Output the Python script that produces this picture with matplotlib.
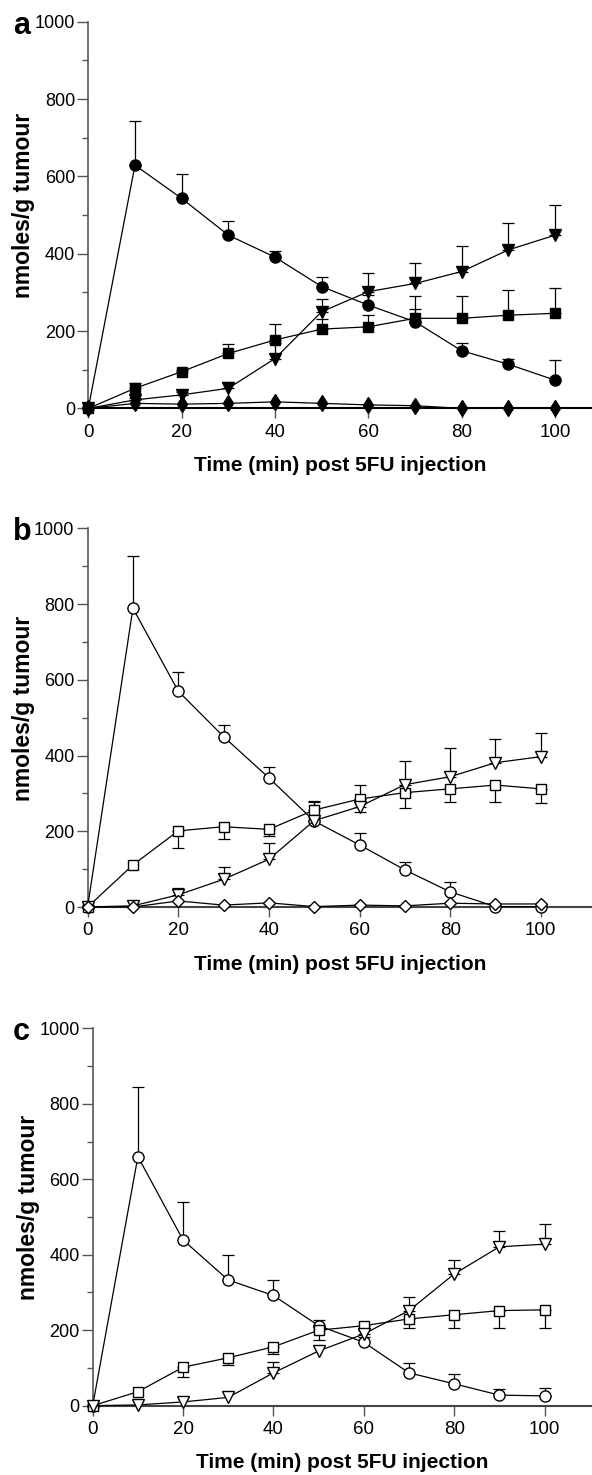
import matplotlib
matplotlib.use("Agg")
import numpy as np
import matplotlib.pyplot as plt
from matplotlib.ticker import MultipleLocator

plt.rcParams['font.family'] = ['Liberation Sans Narrow', 'Liberation Sans', 'DejaVu Sans']

# Time points (min) post 5FU injection
time = [0, 10, 20, 30, 40, 50, 60, 70, 80, 90, 100]

# Panel a (filled symbols); errors: + = bar up, - = bar down
a_circle = [0, 629, 543, 448, 391, 315, 267, 224, 149, 114, 73]
a_circle_err = [0, 115, 63, 36, 17, 24, 25, 34, 21, 15, 53]
a_square = [0, 52, 95, 142, 177, 205, 211, 233, 233, 241, 246]
a_square_err = [0, 14, 5, 24, 40, 25, 30, 58, 58, 65, 65]
a_triangle = [0, 22, 35, 52, 129, 250, 302, 323, 354, 410, 448]
a_triangle_err = [0, 5, 8, 17, 40, 33, 49, 54, 67, 70, 78]
a_diamond = [0, 13, 11, 13, 17, 13, 9, 7, 0, 0, 0]
a_diamond_err = [0, 0, 0, 0, 0, 0, 0, 0, 0, 0, 0]

# Panel b (open symbols)
b_circle = [0, 789, 570, 450, 341, 227, 164, 98, 40, 1, 1]
b_circle_err = [0, 139, 50, 31, 29, 10, 32, 22, 25, 0, 0]
b_square = [0, 111, 201, 212, 205, 256, 285, 302, 312, 322, 312]
b_square_err = [0, 0, -46, -32, -18, 24, 37, -41, -36, -44, -37]
b_triangle = [0, 3, 32, 73, 126, 228, 265, 323, 344, 381, 397]
b_triangle_err = [0, 0, 17, 32, 44, 50, -15, 63, 75, 62, 62]
b_diamond = [0, 0, 16, 5, 11, 1, 5, 3, 10, 8, 8]
b_diamond_err = [0, 0, 0, 0, 0, 0, 0, 0, 0, 0, 0]

# Panel c (open symbols)
c_circle = [0, 660, 439, 333, 292, 212, 168, 87, 58, 28, 26]
c_circle_err = [0, 184, 102, 66, 40, 14, 15, 27, 25, 15, 22]
c_square = [0, 37, 102, 127, 156, 200, 212, 230, 241, 252, 254]
c_square_err = [0, 0, -26, -19, -18, -27, -10, -25, -36, -46, -48]
c_triangle = [0, 2, 10, 22, 87, 145, 190, 252, 349, 421, 428]
c_triangle_err = [0, 0, 0, 0, 30, 0, 10, 37, 37, 42, 53]

W, H = 592, 1475
fig = plt.figure(figsize=(W / 100, H / 100), dpi=100)


def make_axes(left_px, y0_px, y1000_px, xmax):
    ax = fig.add_axes([left_px / W, 1 - y0_px / H, (W - left_px) / W, (y0_px - y1000_px) / H])
    ax.set_xlim(0, xmax)
    ax.set_ylim(0, 1000)
    return ax


def draw_series(ax, vals, errs, marker, ms, face):
    errs = np.array(errs, dtype=float)
    vals = np.array(vals, dtype=float)
    t = np.array(time, dtype=float)
    keep = errs != 0
    lo = np.where(errs < 0, -errs, 0)[keep]
    hi = np.where(errs > 0, errs, 0)[keep]
    if keep.any():
        ax.errorbar(t[keep], vals[keep], yerr=[lo, hi], fmt='none', ecolor='black',
                    elinewidth=0.9, capsize=4, capthick=0.9, zorder=2)
    ax.plot(t, vals, '-', color='black', lw=0.9, marker=marker, ms=ms,
            mfc=face, mec='black', mew=1.0, clip_on=False, zorder=3)


def style(ax, letter, spine_col):
    for s in ['top', 'right']:
        ax.spines[s].set_visible(False)
    ax.spines['left'].set_color('#555555')
    ax.spines['left'].set_linewidth(1.2)
    ax.spines['bottom'].set_color(spine_col)
    ax.spines['bottom'].set_linewidth(1.5)
    ax.set_xticks([0, 20, 40, 60, 80, 100])
    ax.yaxis.set_major_locator(MultipleLocator(200))
    ax.yaxis.set_minor_locator(MultipleLocator(100))
    ax.tick_params(axis='y', which='major', length=8, width=1, pad=1.5,
                   color='#555555', labelsize=13)
    ax.tick_params(axis='y', which='minor', length=4, width=1, color='#555555')
    ax.tick_params(axis='x', which='major', length=7, width=1, pad=4,
                   color='#555555', labelsize=13.5)
    ax.set_xlabel('Time (min) post 5FU injection', family='Liberation Sans',
                  fontweight='bold', fontsize=15, labelpad=11)
    ax.set_ylabel('nmoles/g tumour', family='Liberation Sans',
                  fontweight='bold', fontsize=16.5)
    ax.yaxis.set_label_coords(-0.105, 0.525)
    left_px = ax.get_position().x0 * W
    ax.annotate(letter, xy=(0, 1000), xycoords=('axes fraction', 'data'),
                xytext=(13 - left_px, -12), textcoords='offset pixels',
                ha='left', va='baseline', family='Liberation Sans',
                fontweight='bold', fontsize=22)


# Panel a
ax1 = make_axes(88.3, 408.4, 21.7, 107.9)
draw_series(ax1, a_circle, a_circle_err, 'o', 8, 'black')
draw_series(ax1, a_square, a_square_err, 's', 7.5, 'black')
draw_series(ax1, a_triangle, a_triangle_err, 'v', 8.5, 'black')
draw_series(ax1, a_diamond, a_diamond_err, 'd', 8.5, 'black')
style(ax1, 'a', 'black')

# Panel b
ax2 = make_axes(87.6, 907.0, 528.3, 111.3)
draw_series(ax2, b_circle, b_circle_err, 'o', 8, 'white')
draw_series(ax2, b_square, b_square_err, 's', 7.5, 'white')
draw_series(ax2, b_triangle, b_triangle_err, 'v', 8.5, 'white')
draw_series(ax2, b_diamond, b_diamond_err, 'D', 6.5, 'white')
style(ax2, 'b', '#444444')

# Panel c
ax3 = make_axes(92.7, 1405.7, 1028.3, 110.5)
draw_series(ax3, c_circle, c_circle_err, 'o', 8, 'white')
draw_series(ax3, c_square, c_square_err, 's', 7.5, 'white')
draw_series(ax3, c_triangle, c_triangle_err, 'v', 8.5, 'white')
style(ax3, 'c', '#444444')

fig.savefig('out.png', dpi=100)
